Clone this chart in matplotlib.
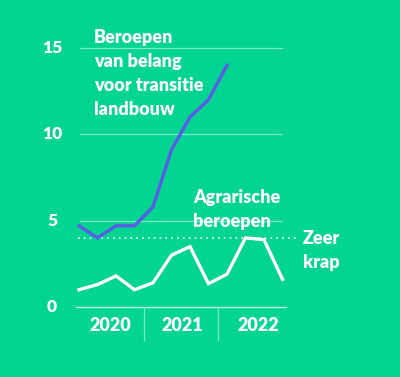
import numpy as np
import matplotlib.pyplot as plt

# quarterly values, 2020 Q1 .. 2022 Q4
quarters = np.arange(12)
transitie = [4.7, 4.0, 4.7, 4.7, 5.8, 9.1, 11.0, 12.0, 14.0]
agrarisch = [1.0, 1.3, 1.8, 1.0, 1.4, 3.0, 3.5, 1.35, 1.9, 4.0, 3.9, 1.6]
years = ["2020", "2021", "2022"]
year_pos = [1.7, 5.6, 9.7]
yticks = [0, 5, 10, 15]
krap = 4.0

BG = "#02d491"
BLUE = "#5b5ce6"
WHITE = "white"
FONT = "Lato"

fig = plt.figure(figsize=(4, 3.77), dpi=100)
fig.patch.set_facecolor(BG)
W, H = 400, 377
ax = fig.add_axes([76.2 / W, 1 - 307 / H, 210 / W, 276.3 / H])
ax.set_facecolor(BG)
ax.set_xlim(-0.15, 11.2)
ax.set_ylim(0, 16)
for s in ax.spines.values():
    s.set_visible(False)
ax.set_xticks([])
ax.set_yticks([])

# grid lines
for v in yticks[1:]:
    ax.plot([0.05, 10.95], [v, v], color="#7de9c3", lw=0.9, zorder=1)
ax.plot([-0.15, 11.2], [0, 0], color="#b8f3dd", lw=1.0, zorder=1, clip_on=False)
for d in [3.5, 7.5]:
    ax.plot([d, d], [0, -1.9], color="#7de9c3", lw=0.9, clip_on=False)

# y tick labels
for v in yticks:
    ax.text(-1.45, v, str(v), color=WHITE, fontsize=12.5, fontweight="heavy",
            family=FONT, ha="center", va="center", clip_on=False)

# year labels
for x, y in zip(year_pos, years):
    ax.text(x, -1.1, y, color=WHITE, fontsize=13, fontweight="heavy",
            family=FONT, ha="center", va="center", clip_on=False)

# threshold
ax.plot([-0.05, 11.8], [krap, krap], color=WHITE, lw=1.2, ls=(0, (1, 2.5)),
        clip_on=False, zorder=2)

ax.plot(quarters[:len(transitie)], transitie, color=BLUE, lw=2.4, zorder=3,
        solid_joinstyle="miter")
ax.plot(quarters, agrarisch, color=WHITE, lw=2.4, zorder=3,
        solid_joinstyle="miter")

txt = dict(color=WHITE, fontsize=13, fontweight="heavy", family=FONT,
           ha="left", va="top", linespacing=1.5, clip_on=False)
ax.text(0.8, 16.1, "Beroepen\nvan belang\nvoor transitie\nlandbouw", **txt)
ax.text(6.15, 6.85, "Agrarische\nberoepen", **txt)
ax.text(12.1, 4.45, "Zeer\nkrap", **txt)

plt.savefig("out.png", dpi=100, facecolor=BG)
